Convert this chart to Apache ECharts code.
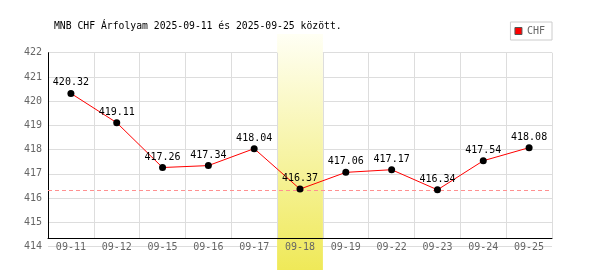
<!DOCTYPE html>
<html>
<head>
<meta charset="utf-8">
<script src="https://cdn.jsdelivr.net/npm/echarts@6/dist/echarts.min.js"></script>
<style>html,body{margin:0;padding:0;background:#fff}#c{width:600px;height:270px}</style>
</head>
<body>
<div id="c"></div>
<script>
var titleText = 'MNB CHF Árfolyam 2025-09-11 és 2025-09-25 között.';
var seriesName = 'CHF';
var categories = ['09-11','09-12','09-15','09-16','09-17','09-18','09-19','09-22','09-23','09-24','09-25'];
var values = [420.32, 419.11, 417.26, 417.34, 418.04, 416.37, 417.06, 417.17, 416.34, 417.54, 418.08];
var highlightDate = '09-18';
var yMin = 414, yMax = 422, yStep = 1;

var FONT = 'DejaVu Sans Mono';
var bandData = categories.map(function (c) { return c === highlightDate ? 1 : null; });

var chart = echarts.init(document.getElementById('c'), null, {renderer: 'canvas'});
chart.setOption({
  animation: false,
  backgroundColor: '#fff',
  title: {
    text: titleText, left: 54, top: 21, padding: 0,
    textStyle: {fontFamily: FONT, fontSize: 9.75, fontWeight: 'normal', color: '#000'}
  },
  legend: {
    data: [seriesName], right: 48, top: 22, padding: [4, 7, 4, 4],
    borderColor: '#ccc', borderWidth: 1, icon: 'rect', itemWidth: 7, itemHeight: 7,
    itemStyle: {color: '#f00', borderColor: '#555', borderWidth: 1},
    textStyle: {fontFamily: FONT, fontSize: 10, color: '#666'}
  },
  grid: [
    {left: 48, right: 48, top: 52.7, bottom: 23.5},
    {left: 48, right: 48, top: 52.7, bottom: 31.7},
    {left: 48, right: 48, top: 34, bottom: 0}
  ],
  xAxis: [
    {gridIndex: 0, type: 'category', data: categories, boundaryGap: true, z: 3, offset: -8.2,
     axisLine: {show: false}, axisTick: {show: false}, splitLine: {show: false},
     axisLabel: {margin: 4, color: '#666', fontFamily: FONT, fontSize: 10, interval: 0}},
    {gridIndex: 1, type: 'category', data: categories, boundaryGap: true, z: 3,
     axisLine: {show: true, onZero: false, lineStyle: {color: '#000', width: 1}},
     axisTick: {show: false}, axisLabel: {show: false},
     splitLine: {show: true, interval: 0, lineStyle: {color: '#ddd', width: 1}}},
    {gridIndex: 2, type: 'category', data: categories, boundaryGap: true, show: false}
  ],
  yAxis: [
    {gridIndex: 0, type: 'value', min: yMin, max: yMax, interval: yStep, z: 0,
     axisLine: {show: false}, axisTick: {show: false},
     axisLabel: {margin: 6, color: '#666', fontFamily: FONT, fontSize: 10},
     splitLine: {show: true, lineStyle: {color: '#ddd', width: 1}}},
    {gridIndex: 1, type: 'value', min: 0, max: 1, z: 3,
     axisLine: {show: true, lineStyle: {color: '#000', width: 1}},
     axisTick: {show: false}, axisLabel: {show: false}, splitLine: {show: false}},
    {gridIndex: 2, type: 'value', min: 0, max: 1, show: false}
  ],
  series: [
    {
      type: 'bar', xAxisIndex: 2, yAxisIndex: 2, data: bandData, z: 1,
      barWidth: '100%', barGap: '0%', silent: true,
      itemStyle: {color: new echarts.graphic.LinearGradient(0, 0, 0, 1, [
        {offset: 0, color: '#fffff4'}, {offset: 1, color: '#efe958'}
      ])}
    },
    {
      name: seriesName, type: 'line', xAxisIndex: 0, yAxisIndex: 0, data: values, z: 5,
      symbol: 'circle', symbolSize: 7,
      itemStyle: {color: '#000'},
      lineStyle: {color: '#f00', width: 1},
      label: {show: true, position: 'top', distance: 2, color: '#000', fontFamily: FONT, fontSize: 10},
      markLine: {
        silent: true, symbol: 'none', label: {show: false},
        lineStyle: {color: '#ff9090', type: [4, 3], width: 1},
        data: [{type: 'min'}]
      }
    }
  ]
});
</script>
</body>
</html>
